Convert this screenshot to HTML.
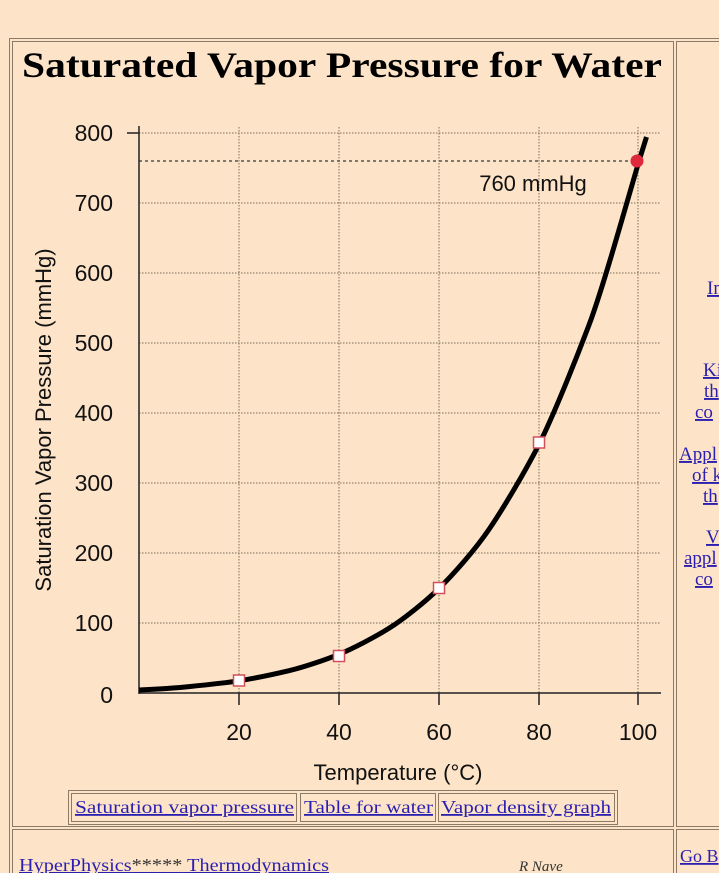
<!DOCTYPE html>
<html><head><style>
body{margin:0;background:#fde4c8;width:719px;height:873px;overflow:hidden;font-family:"Liberation Serif",serif;}
svg{position:absolute;left:0;top:0}
</style></head><body>
<svg width="719" height="873" viewBox="0 0 719 873" xmlns="http://www.w3.org/2000/svg">
<rect width="719" height="873" fill="#fde4c8"/>
<g fill="none" stroke="#8a7a66" stroke-width="1">
<rect x="9.5" y="38.5" width="720" height="840"/>
<rect x="12.5" y="41.5" width="661" height="785"/>
<rect x="676.5" y="41.5" width="50" height="785"/>
<rect x="12.5" y="829.5" width="661" height="60"/>
<rect x="676.5" y="829.5" width="50" height="60"/>
</g>
<text x="22" y="77" font-family="Liberation Serif,serif" font-weight="bold" font-size="36" textLength="640" lengthAdjust="spacingAndGlyphs">Saturated Vapor Pressure for Water</text>
<g stroke="#7a6a5a" stroke-width="1" stroke-dasharray="1.5,1.5">
<line x1="239" y1="127" x2="239" y2="693"/><line x1="339" y1="127" x2="339" y2="693"/>
<line x1="439" y1="127" x2="439" y2="693"/><line x1="539" y1="127" x2="539" y2="693"/>
<line x1="638" y1="127" x2="638" y2="693"/>
<line x1="139" y1="133" x2="660" y2="133"/><line x1="139" y1="203" x2="660" y2="203"/>
<line x1="139" y1="273" x2="660" y2="273"/><line x1="139" y1="343" x2="660" y2="343"/>
<line x1="139" y1="413" x2="660" y2="413"/><line x1="139" y1="483" x2="660" y2="483"/>
<line x1="139" y1="553" x2="660" y2="553"/><line x1="139" y1="623" x2="660" y2="623"/>
</g>
<line x1="139" y1="161" x2="637" y2="161" stroke="#555" stroke-width="1.5" stroke-dasharray="3,3"/>
<g stroke="#222" stroke-width="1.5">
<line x1="139" y1="126" x2="139" y2="694"/><line x1="139" y1="693" x2="661" y2="693"/>
<line x1="127" y1="133" x2="139" y2="133"/>
<line x1="239" y1="693" x2="239" y2="705"/><line x1="339" y1="693" x2="339" y2="705"/>
<line x1="439" y1="693" x2="439" y2="705"/><line x1="539" y1="693" x2="539" y2="705"/>
<line x1="638" y1="693" x2="638" y2="705"/>
</g>
<g font-family="Liberation Sans,sans-serif" font-size="23" fill="#111" text-anchor="end">
<text x="113" y="141">800</text><text x="113" y="211">700</text><text x="113" y="281">600</text>
<text x="113" y="351">500</text><text x="113" y="421">400</text><text x="113" y="491">300</text>
<text x="113" y="561">200</text><text x="113" y="631">100</text><text x="113" y="703">0</text>
</g>
<g font-family="Liberation Sans,sans-serif" font-size="23" fill="#111" text-anchor="middle">
<text x="239" y="740">20</text><text x="339" y="740">40</text><text x="439" y="740">60</text>
<text x="539" y="740">80</text><text x="638" y="740">100</text>
</g>
<g font-family="Liberation Sans,sans-serif" font-size="22" fill="#111" text-anchor="middle">
<text x="398" y="780">Temperature (°C)</text>
<text transform="translate(51,420) rotate(-90)">Saturation Vapor Pressure (mmHg)</text>
</g>
<text x="533" y="191" font-family="Liberation Sans,sans-serif" font-size="22" fill="#111" text-anchor="middle">760 mmHg</text>
<path d="M139,690 C160,689 175,688 189,686.6 S225,683 239,680.8 S275,674 289,670.7 S325,660 339,654.3 S375,637 389,628.3 S425,602 439,588.4 S475,550 489,529.4 S525,472 539,444.4 S575,362 589,325 S626,205 639,161 L646.5,137" fill="none" stroke="#000" stroke-width="5"/>
<g fill="#fff" stroke="#d0505a" stroke-width="1.5">
<rect x="233.5" y="675" width="11" height="11"/><rect x="333.5" y="650.5" width="11" height="11"/>
<rect x="433.5" y="582.5" width="11" height="11"/><rect x="533.5" y="437" width="11" height="11"/>
</g>
<circle cx="637" cy="161" r="6.5" fill="#e0283c"/>
<g fill="none" stroke="#8a7a66">
<rect x="68.5" y="790.5" width="549" height="34"/>
<rect x="71.5" y="793.5" width="225" height="28"/>
<rect x="300.5" y="793.5" width="135" height="28"/>
<rect x="438.5" y="793.5" width="176" height="28"/>
</g>
<g font-family="Liberation Serif,serif" font-size="18" fill="#2a1fb0" text-decoration="underline">
<text x="75" y="813" textLength="219" lengthAdjust="spacingAndGlyphs">Saturation vapor pressure</text>
<text x="304" y="813" textLength="129" lengthAdjust="spacingAndGlyphs">Table for water</text>
<text x="441" y="813" textLength="170" lengthAdjust="spacingAndGlyphs">Vapor density graph</text>
<text x="19" y="871" textLength="310" lengthAdjust="spacingAndGlyphs">HyperPhysics<tspan fill="#333">*****</tspan> Thermodynamics</text>
<text x="680" y="862">Go B</text>
</g>
<g font-family="Liberation Serif,serif" font-size="19" fill="#2a1fb0" text-decoration="underline">
<text x="707" y="294">In</text>
<text x="703" y="376">Ki</text><text x="704" y="397">th</text><text x="695" y="418">co</text>
<text x="679" y="460">Appl</text><text x="692" y="481">of k</text><text x="703" y="502">th</text>
<text x="706" y="543">V</text><text x="684" y="564">appl</text><text x="695" y="585">co</text>
</g>
<text x="519" y="871" font-family="Liberation Serif,serif" font-style="italic" font-size="15" fill="#333">R Nave</text>
</svg>
</body></html>
